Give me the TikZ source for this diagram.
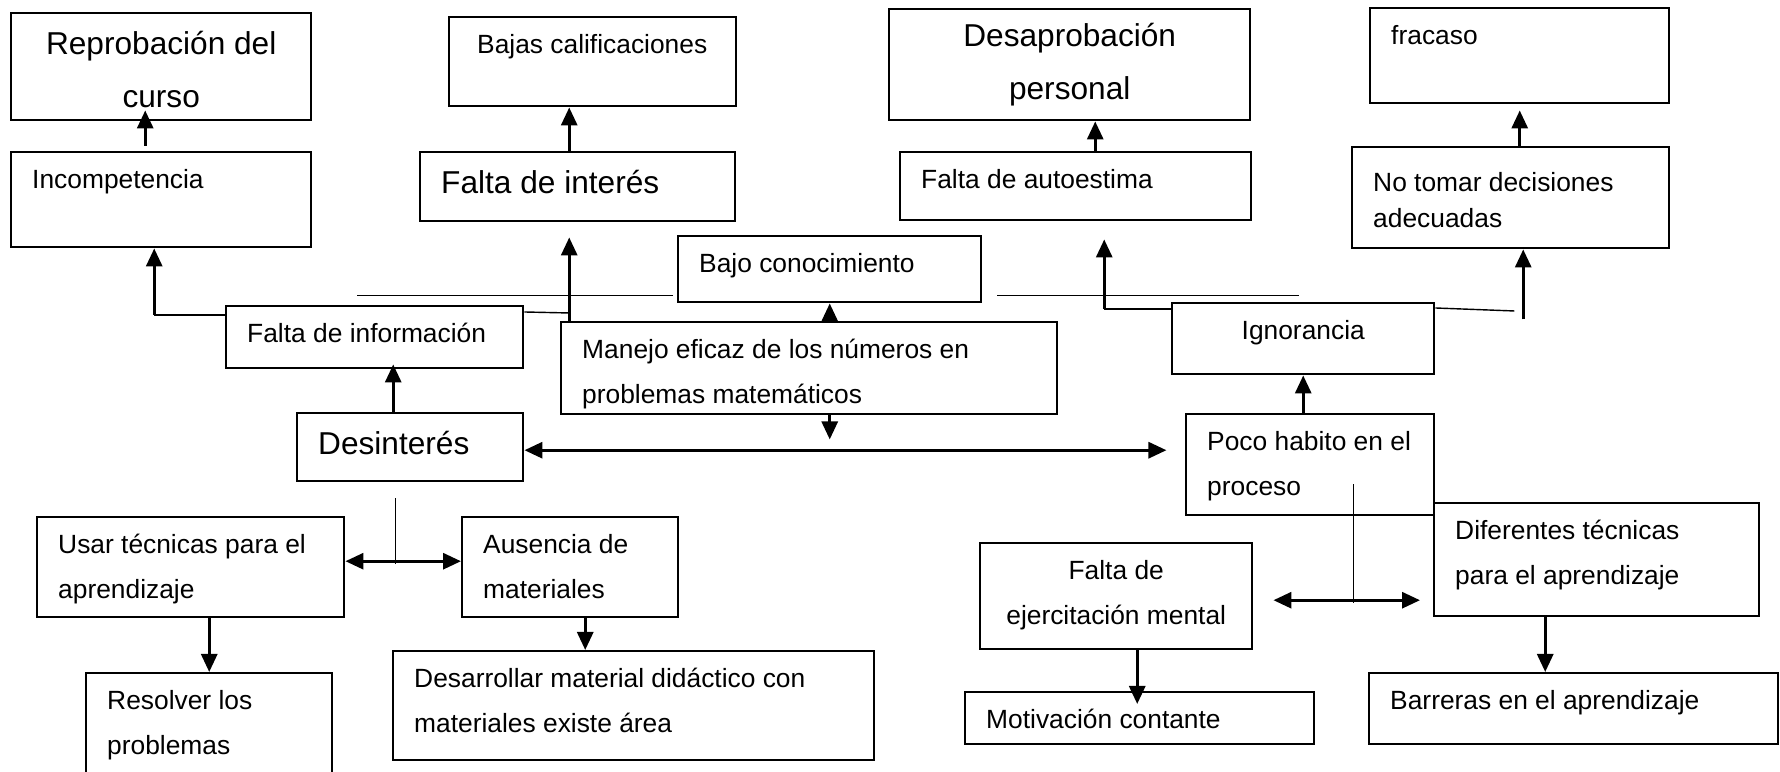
\documentclass[tikz,border=0pt]{standalone}
\usepackage{fontspec}
\setmainfont{Liberation Sans}
\usepackage{tikz}
\usetikzlibrary{arrows.meta}
\tikzstyle{caja} = [draw, line width=0.7pt, anchor=north west, inner sep=0pt, font=\fontsize{7.5}{13}\selectfont]
\tikzstyle{grande} = [caja, font=\fontsize{9}{15.2}\selectfont]
\tikzstyle{flecha} = [-{Triangle[length=0.18cm,width=0.16cm]}, line width=0.85pt]
\tikzstyle{doble} = [{Triangle[length=0.18cm,width=0.16cm]}-{Triangle[length=0.18cm,width=0.16cm]}, line width=0.85pt]
\tikzstyle{fina} = [line width=0.4pt]
\newcommand{\texto}[4][0.36]{\parbox[t][#3cm][t]{#2cm}{\raggedright\leftskip=0.21cm\rule{0pt}{#1cm}#4}}

\begin{document}
\begin{tikzpicture}
  \useasboundingbox (0,0) rectangle (17.80,-7.72);

  % efectos
  \node[grande] (repro) at (0.10,-0.12) {\texto[0.41]{3.00}{1.07}{\centering Reprobación del\\curso}};
  \node[caja] (incomp) at (0.10,-1.51) {\texto{3.00}{0.95}{Incompetencia}};
  \node[caja] (bajas) at (4.48,-0.16) {\texto{2.87}{0.89}{\hspace*{0.07cm}Bajas calificaciones}};
  \node[grande] (finteres) at (4.19,-1.51) {\texto[0.41]{3.15}{0.69}{Falta de interés}};
  \node[grande] (desap) at (8.88,-0.08) {\texto[0.37]{3.61}{1.11}{\centering Desaprobación\\personal}};
  \node[caja] (autoest) at (8.99,-1.51) {\texto{3.51}{0.68}{Falta de autoestima}};
  \node[caja] (fracaso) at (13.69,-0.07) {\texto{2.99}{0.95}{fracaso}};
  \node[caja] (notomar) at (13.51,-1.46) {\texto[0.44]{3.17}{1.01}{No tomar decisiones\\[-0.09cm]adecuadas}};

  % centro
  \node[caja] (bajo) at (6.77,-2.35) {\texto{3.03}{0.66}{Bajo conocimiento}};
  \node[caja] (finfo) at (2.25,-3.05) {\texto{2.97}{0.62}{Falta de información}};
  \node[caja] (manejo) at (5.60,-3.21) {\texto{4.96}{0.92}{Manejo eficaz de los números en\\problemas matemáticos}};
  \node[caja] (ignor) at (11.71,-3.02) {\texto{2.62}{0.71}{\centering Ignorancia}};
  \node[grande] (desint) at (2.96,-4.12) {\texto[0.41]{2.26}{0.68}{Desinterés}};
  \node[caja] (poco) at (11.85,-4.13) {\texto{2.48}{1.01}{Poco habito en el\\proceso}};

  % abajo
  \node[caja] (usar) at (0.36,-5.16) {\texto{3.07}{1.00}{Usar técnicas para el\\aprendizaje}};
  \node[caja] (ausen) at (4.61,-5.16) {\texto{2.16}{1.00}{Ausencia de\\materiales}};
  \node[caja] (difer) at (14.33,-5.02) {\texto{3.25}{1.13}{Diferentes técnicas\\para el aprendizaje}};
  \node[caja] (fejerc) at (9.79,-5.42) {\texto{2.72}{1.06}{\centering Falta de\\ejercitación mental}};
  \node[caja] (resol) at (0.85,-6.72) {\texto{2.46}{1.20}{Resolver los\\problemas}};
  \node[caja] (desarr) at (3.92,-6.50) {\texto{4.81}{1.09}{Desarrollar material didáctico con\\materiales existe área}};
  \node[caja] (motiv) at (9.64,-6.91) {\texto{3.49}{0.52}{Motivación contante}};
  \node[caja] (barre) at (13.68,-6.72) {\texto{4.09}{0.71}{Barreras en el aprendizaje}};

  \coordinate (c1) at ([yshift=-0.10cm]finfo.north west);
  \coordinate (c2) at ([xshift=-0.07cm]incomp.south);
  \coordinate (c3) at ([xshift=-0.085cm,yshift=-0.15cm]finteres.south);
  \coordinate (c4) at ([xshift=-0.04cm,yshift=0.08cm]bajo.south west);
  \coordinate (c5) at ([xshift=0.185cm,yshift=0.05cm]finfo.south);
  \coordinate (c6) at ([xshift=0.15cm]ausen.south);
  \coordinate (c7) at ([xshift=0.195cm]autoest.north);
  \coordinate (c8) at ([yshift=-0.07cm]ignor.north west);
  \coordinate (c9) at ([xshift=0.285cm,yshift=-0.18cm]autoest.south);
  \coordinate (c10) at ([xshift=0.125cm]notomar.south);
  \coordinate (c11) at ([xshift=-0.085cm]finteres.north);
  \coordinate (c12) at ([yshift=-0.04cm]fejerc.east);
  \coordinate (c13) at ([xshift=-0.515cm]difer.south);
  \coordinate (c14) at ([xshift=0.21cm]fejerc.south);

  \draw[flecha] ([xshift=-0.16cm,yshift=0.05cm]incomp.north) -- ([xshift=-0.16cm,yshift=0.11cm]repro.south);
  \draw[flecha] (c11) -- (c11 |- bajas.south);
  \draw[flecha] (c7) -- (c7 |- desap.south);
  \draw[flecha] (notomar.north -| fracaso.south) -- ([yshift=-0.06cm]fracaso.south);

  \draw[fina] (c1) -- (c1 -| c2);
  \draw[flecha] (c1 -| c2) -- (c2);
  \draw[fina] ([yshift=-0.07cm]finfo.north east) -- ++(0.45,-0.01);
  \draw[flecha] (manejo.north -| c3) -- (c3);
  \draw[fina] (c4) -- ++(-3.16,0);
  \draw[fina] ([xshift=0.15cm,yshift=0.08cm]bajo.south east) -- ++(3.02,0);
  \draw[flecha] (manejo.north -| bajo.south) -- (bajo.south);
  \draw[flecha] (manejo.south -| bajo.south) -- ++(0,-0.24);

  \draw[fina] (c8) -- (c8 -| c9);
  \draw[flecha] (c8 -| c9) -- (c9);
  \draw[fina] ([yshift=-0.06cm]ignor.north east) -- ++(0.79,-0.03);
  \draw[flecha] ([yshift=-0.70cm]c10) -- (c10);
  \draw[flecha] (poco.north -| ignor.south) -- (ignor.south);

  \draw[doble] ([yshift=-0.03cm]desint.east) -- ++(6.42,0);
  \draw[flecha] (desint.north -| c5) -- (c5);
  \draw[fina] ([xshift=-0.15cm,yshift=-0.16cm]desint.south) -- ++(0,-0.66);
  \draw[doble] ([yshift=0.06cm]usar.east) -- ([yshift=0.06cm]ausen.west);
  \draw[flecha] (usar.south -| resol.north) -- (resol.north);
  \draw[flecha] (c6) -- (c6 |- desarr.north);

  \draw[fina] ([xshift=-0.82cm,yshift=0.32cm]poco.south east) -- ++(0,-1.19);
  \draw[doble, shorten <=0.2cm, shorten >=0.13cm] (c12) -- (c12 -| difer.west);
  \draw[flecha] (c13) -- (c13 |- barre.north);
  \draw[flecha, shorten >=-0.13cm] (c14) -- (c14 |- motiv.north);

\end{tikzpicture}
\end{document}
